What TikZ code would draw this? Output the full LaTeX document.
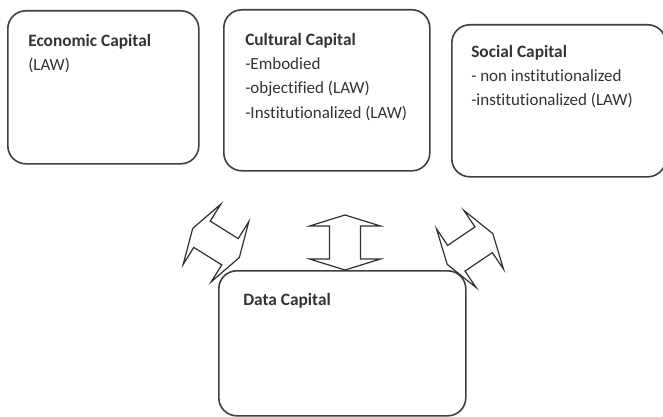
\documentclass[tikz,border=0pt]{standalone}
\usepackage{fontspec}
\setmainfont[Ligatures=NoCommon]{Carlito}
\definecolor{boxgray}{HTML}{404040}
\definecolor{txtgray}{HTML}{333333}
\definecolor{arrgray}{HTML}{303030}
\tikzset{
  capbox/.style={draw=boxgray, line width=1.2pt, rounded corners=13.5pt, fill=white, inner sep=0pt, anchor=north west},
  head/.style={anchor=base west, inner sep=0pt, font=\fontsize{13}{16}\selectfont\bfseries, text=txtgray},
  item/.style={anchor=base west, inner sep=0pt, font=\fontsize{12.75}{16}\selectfont, text=txtgray},
  arrowline/.style={draw=arrgray, line width=0.9pt, fill=white, line join=miter},
  dblarrow/.pic={
    \path[arrowline] (27.5,0) -- (16.5,35.5) -- (16.5,15.5) -- (-16.5,15.5) -- (-16.5,35.5)
      -- (-27.5,0) -- (-16.5,-35.5) -- (-16.5,-15.5) -- (16.5,-15.5) -- (16.5,-35.5) -- cycle;
  }
}
\begin{document}
\begin{tikzpicture}[x=0.75pt,y=-0.75pt]
\useasboundingbox (0,0) rectangle (663,417);
% boxes
\node[capbox, minimum width=143.25pt, minimum height=114.75pt] (econ) at (7,10) {};
\node[capbox, minimum width=154.5pt, minimum height=120.75pt] (cult) at (223,9) {};
\node[capbox, minimum width=160.5pt, minimum height=114pt] (soc) at (451,24) {};
\node[capbox, minimum width=185.25pt, minimum height=108.75pt] (data) at (218,270) {};
% arrows
\pic[rotate=-32] at (216,243) {dblarrow};
\pic[rotate=90] at (345,242.5) {dblarrow};
\pic[rotate=34] at (470,249) {dblarrow};
% texts
\node[head] (econh) at (28,47) {Economic Capital};
\node[item] (econ1) at (28,71) {(LAW)};
\node[head] (culth) at (245,46) {Cultural Capital};
\node[item] (cult1) at (245,70) {-Embodied};
\node[item] (cult2) at (245,94) {-objectified (LAW)};
\node[item] (cult3) at (245,118) {-Institutionalized (LAW)};
\node[head] (soch) at (471,58) {Social Capital};
\node[item] (soc1) at (471,82) {- non institutionalized};
\node[item] (soc2) at (471,106) {-institutionalized (LAW)};
\node[head] (datah) at (243,305) {Data Capital};
\end{tikzpicture}
\end{document}
